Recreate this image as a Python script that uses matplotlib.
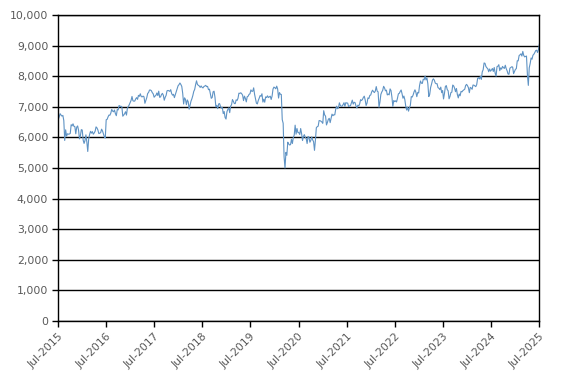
"""Line chart of a weekly index level, Jul-2015 to Jul-2025."""

import pandas as pd
import matplotlib.pyplot as plt
import matplotlib.dates as mdates
from matplotlib.ticker import FuncFormatter

LINE_COLOUR = '#5F93C4'
TEXT_COLOUR = '#595959'

# weekly closes; each list starts on the first Friday shown
weekly_levels = {
    '2015-07-03': [6585, 6673, 6775, 6731, 6696, 6718, 6550, 5900, 6248, 6043,
                   6118, 6105, 6110, 6130, 6416, 6378, 6444, 6361, 6353, 6118,
                   6334, 6375, 6238, 5952, 6052, 6254],
    '2016-01-01': [6242, 5912, 5804, 5900, 6083, 5848, 5540, 5950, 6097, 6199,
                   6140, 6190, 6106, 6146, 6204, 6344, 6310, 6242, 6126, 6138,
                   6156, 6270, 6209, 6116, 6021, 5980, 6577, 6590, 6669, 6730,
                   6724, 6793, 6916, 6859, 6838, 6895, 6777, 6710, 6910, 6899,
                   7044, 7014, 7020, 6996, 6693, 6730, 6775, 6840, 6730, 6954,
                   7011, 7068, 7143],
    '2017-01-06': [7210, 7338, 7198, 7184, 7188, 7258, 7300, 7243, 7374, 7343,
                   7425, 7336, 7323, 7349, 7328, 7115, 7204, 7297, 7435, 7470,
                   7548, 7548, 7527, 7464, 7424, 7313, 7350, 7378, 7453, 7368,
                   7511, 7310, 7324, 7401, 7439, 7378, 7215, 7310, 7373, 7522,
                   7535, 7523, 7505, 7560, 7433, 7380, 7409, 7300, 7394, 7490,
                   7592, 7688],
    '2018-01-05': [7724, 7778, 7730, 7666, 7443, 7092, 7294, 7244, 7070, 7224,
                   7164, 6922, 7057, 7184, 7265, 7368, 7502, 7567, 7724, 7850,
                   7730, 7702, 7681, 7634, 7682, 7637, 7617, 7662, 7679, 7701,
                   7659, 7667, 7559, 7577, 7432, 7277, 7304, 7490, 7510, 7318,
                   6996, 7049, 6940, 7094, 7105, 7013, 6953, 6980, 6778, 6845,
                   6650, 6600],
    '2019-01-04': [6837, 6918, 6968, 6809, 7020, 7071, 7237, 7178, 7107, 7104,
                   7228, 7207, 7279, 7446, 7437, 7459, 7428, 7380, 7203, 7348,
                   7277, 7161, 7331, 7345, 7407, 7425, 7553, 7506, 7508, 7620,
                   7407, 7253, 7117, 7095, 7207, 7282, 7367, 7345, 7426, 7155,
                   7247, 7150, 7324, 7302, 7359, 7303, 7326, 7347, 7240, 7353,
                   7582, 7645],
    '2020-01-03': [7622, 7588, 7675, 7586, 7286, 7466, 7409, 7404, 6581, 6463,
                   5366, 5000, 5510, 5416, 5843, 5787, 5752, 5763, 5936, 5800,
                   5993, 6076, 6400, 6105, 6292, 6159, 6157, 6095, 6290, 6123,
                   5898, 6032, 6090, 6001, 5964, 5800, 6032, 6007, 5843, 5902,
                   6017, 5920, 5860, 5577, 5910, 6316, 6351, 6367, 6550, 6546,
                   6529, 6502],
    '2021-01-01': [6461, 6873, 6736, 6695, 6407, 6489, 6589, 6624, 6483, 6631,
                   6761, 6709, 6741, 6737, 6916, 7020, 6938, 6970, 7130, 7044,
                   7018, 7023, 7070, 7134, 7017, 7136, 7123, 7122, 7008, 7028,
                   7032, 7123, 7218, 7088, 7148, 7138, 7029, 6964, 7051, 7027,
                   7095, 7234, 7205, 7238, 7304, 7348, 7224, 7044, 7122, 7292,
                   7270, 7373, 7385],
    '2022-01-07': [7485, 7543, 7494, 7466, 7516, 7661, 7513, 7489, 6987, 7156,
                   7405, 7483, 7538, 7670, 7616, 7522, 7545, 7388, 7418, 7390,
                   7585, 7533, 7317, 7016, 7208, 7169, 7196, 7159, 7276, 7423,
                   7440, 7501, 7550, 7427, 7281, 7351, 7236, 7019, 6894, 6991,
                   6858, 6969, 7047, 7334, 7318, 7385, 7486, 7556, 7476, 7332,
                   7469, 7452],
    '2023-01-06': [7699, 7844, 7770, 7765, 7902, 7882, 8004, 7879, 7948, 7748,
                   7335, 7405, 7632, 7742, 7871, 7914, 7871, 7778, 7754, 7756,
                   7627, 7607, 7562, 7643, 7462, 7532, 7257, 7434, 7663, 7694,
                   7564, 7524, 7262, 7338, 7465, 7478, 7711, 7684, 7608, 7494,
                   7600, 7402, 7291, 7417, 7360, 7504, 7488, 7529, 7554, 7576,
                   7697, 7733],
    '2024-01-05': [7689, 7625, 7462, 7635, 7615, 7572, 7712, 7706, 7682, 7660,
                   7727, 7930, 7952, 7911, 7996, 7896, 8139, 8213, 8433, 8420,
                   8317, 8275, 8245, 8146, 8237, 8164, 8203, 8253, 8155, 8285,
                   8100, 8000, 8311, 8327, 8377, 8181, 8273, 8230, 8320, 8280,
                   8254, 8358, 8248, 8177, 8072, 8063, 8262, 8287, 8308, 8300,
                   8084, 8150],
    '2025-01-03': [8224, 8248, 8505, 8502, 8674, 8700, 8732, 8659, 8810, 8680,
                   8632, 8647, 8659, 8055, 7700, 8275, 8415, 8596, 8554, 8684,
                   8718, 8772, 8837, 8850, 8775, 8870, 9050],
}

dates = []
levels = []
for start, values in weekly_levels.items():
    dates.extend(pd.date_range(start, periods=len(values), freq='7D'))
    levels.extend(values)

tick_dates = pd.date_range('2015-07-01', '2025-07-01', freq='12MS')
y_ticks = list(range(0, 10001, 1000))

fig = plt.figure(figsize=(5.67, 3.82), dpi=100)
ax = fig.add_axes([0.1023, 0.1597, 0.8483, 0.801])

ax.plot(dates, levels, color=LINE_COLOUR, linewidth=0.8)

ax.set_xlim(tick_dates[0], tick_dates[-1])
ax.set_ylim(0, 10000)
ax.set_xticks(tick_dates)
ax.set_yticks(y_ticks)
ax.xaxis.set_major_formatter(mdates.DateFormatter('%b-%Y'))
ax.yaxis.set_major_formatter(FuncFormatter(lambda v, _: f'{int(v):,}'))

ax.grid(axis='y', color='black', linewidth=1.0)
ax.set_axisbelow(True)
for spine in ax.spines.values():
    spine.set_color('black')
    spine.set_linewidth(1.0)

ax.tick_params(axis='both', direction='out', length=4, width=1, color='black',
               labelcolor=TEXT_COLOUR, labelsize=7.8)
ax.tick_params(axis='y', pad=3)
plt.setp(ax.get_xticklabels(), rotation=45, ha='right', rotation_mode='anchor')

fig.savefig('out.png', dpi=100)
